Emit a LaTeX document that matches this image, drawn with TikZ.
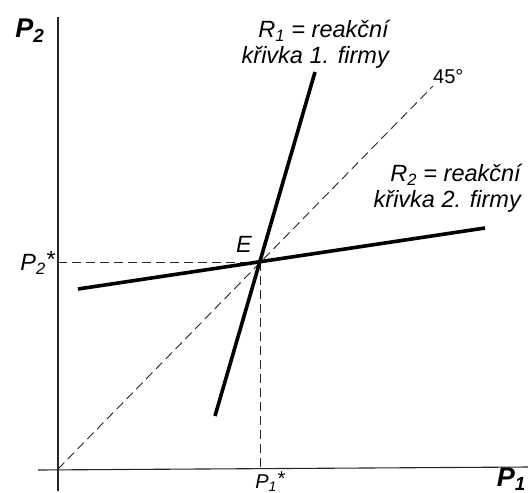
\documentclass[tikz,border=0pt]{standalone}
\usepackage{fontspec}
\setmainfont{Liberation Sans}
\begin{document}
\begin{tikzpicture}[x=1pt,y=-1pt,
  axis/.style={line width=1.1pt,black!85},
  guide/.style={line width=0.9pt,dash pattern=on 9pt off 5pt,black!85},
  curve/.style={line width=3.6pt,black},
  lbl/.style={font=\fontsize{23.5}{26}\selectfont\itshape,inner sep=0pt},
  axl/.style={font=\fontsize{27}{30}\selectfont\bfseries\itshape,inner sep=0pt}]
\useasboundingbox (0,0) rectangle (528,493);
\coordinate (O) at (58,469);
\coordinate (Ytop) at (58,17);
\coordinate (Ybot) at (58,491);
\coordinate (Xl) at (38,470);
\coordinate (Xr) at (530,467);
\coordinate (E) at (260,262);
\coordinate (P2s) at (58,262);
\coordinate (P1s) at (260,469);
\coordinate (D) at (433,86);
\coordinate (R1a) at (215,416);
\coordinate (R1b) at (315,72);
\coordinate (R2a) at (78,289);
\coordinate (R2b) at (485,228);
\draw[axis] (Ytop) -- (Ybot);
\draw[axis] (Xl) -- (Xr);
\draw[guide] (O) -- (D);
\draw[guide] (P2s) -- (E);
\draw[guide] (E) -- (P1s);
\draw[curve] (R1a) -- (R1b);
\draw[curve] (R2a) -- (R2b);
\node[axl] (ly) at (30,31) {P\textsubscript{2}};
\node[axl,anchor=east] (lx) at (526,479) {P\textsubscript{1}};
\node[lbl] (lE) at (244,244) {E};
\node[lbl,anchor=east] (lP2) at (55,263) {P\textsubscript{2}\raisebox{0.2ex}{*}};
\node[lbl,anchor=north,font=\fontsize{20}{22}\selectfont\itshape] (lP1) at (270,472) {P\textsubscript{1}\raisebox{0.2ex}{*}};
\node[lbl,anchor=south west] (l45) at (433,84) {\upshape\fontsize{20}{22}\selectfont 45°};
\node[lbl,align=right,anchor=north east] (lR1) at (389,20) {R\textsubscript{1} = reakční\\křivka 1. firmy};
\node[lbl,align=right,anchor=north east] (lR2) at (521,164) {R\textsubscript{2} = reakční\\křivka 2. firmy};
\end{tikzpicture}
\end{document}
